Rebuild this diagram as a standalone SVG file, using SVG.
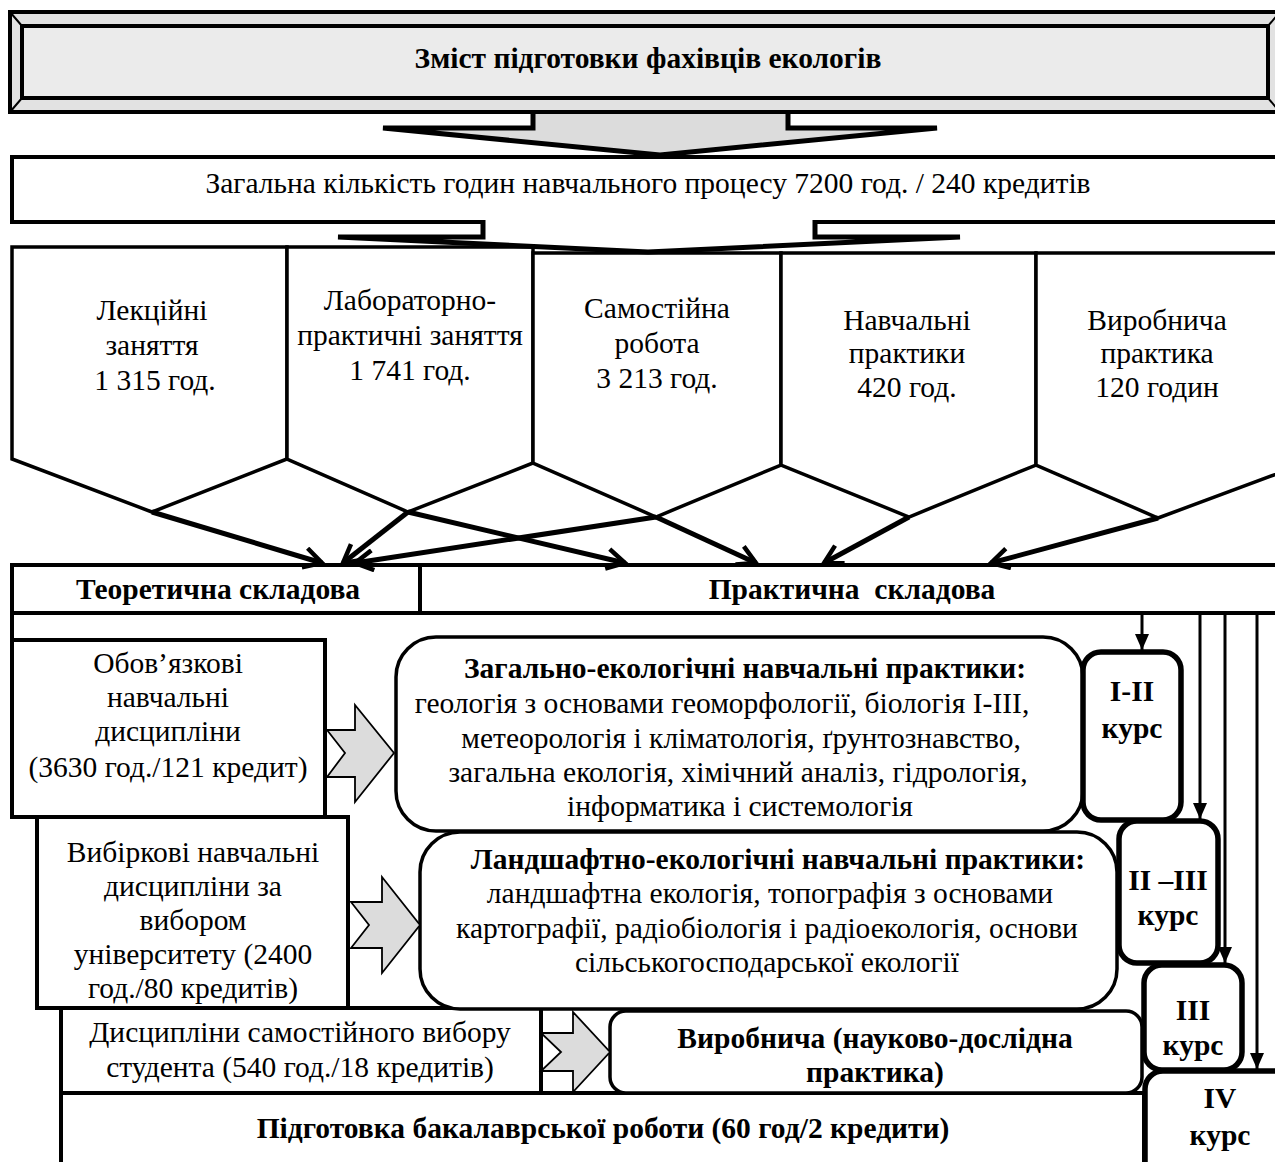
<svg xmlns="http://www.w3.org/2000/svg" width="1275" height="1162" viewBox="0 0 1275 1162">
  <defs>
    <style>
      text { font-family: "Liberation Serif", "Times New Roman", serif; fill: #000; text-anchor: middle; font-size: 29.5px; }
      .b { font-weight: bold; }
      .box { fill: #fff; stroke: #000; stroke-width: 4; }
      .pent { fill: #fff; stroke: #000; stroke-width: 3.5; stroke-linejoin: miter; }
      .flow { fill: none; stroke: #000; stroke-width: 5; }
      .grey { fill: #dcdcdc; stroke: #000; stroke-width: 1.8; stroke-linejoin: miter; }
      .round { fill: #fff; stroke: #000; stroke-width: 3.5; }
      .course { fill: #fff; stroke: #000; stroke-width: 5.5; }
      .vline { fill: none; stroke: #000; stroke-width: 3; }
    </style>
    <marker id="open" markerUnits="userSpaceOnUse" viewBox="-20 -12 24 24" refX="0" refY="0" markerWidth="24" markerHeight="24" orient="auto">
      <path d="M-18,-10 L0,0 L-18,10" fill="none" stroke="#000" stroke-width="4.5"/>
    </marker>
    <marker id="solid" markerUnits="userSpaceOnUse" viewBox="-16 -8 16 16" refX="0" refY="0" markerWidth="16" markerHeight="16" orient="auto">
      <path d="M-16,-7 L0,0 L-16,7 Z" fill="#000"/>
    </marker>
  </defs>

  <!-- big block arrow under the heading -->
  <g id="arrow-heading">
    <path class="grey" style="stroke-width:5" d="M533,108 L533,128 L383,128 L660,155 L937,128 L788,128 L788,108"/>
  </g>

  <!-- heading with bevelled frame -->
  <g id="heading">
    <rect x="10" y="12" width="1275" height="100" fill="#e2e2e2" stroke="#000" stroke-width="4"/>
    <rect x="22" y="26" width="1246" height="72" fill="#ebebeb" stroke="#000" stroke-width="4"/>
    <path d="M10,12 L22,26 M10,112 L22,98 M1268,26 L1280,12 M1268,98 L1280,112" stroke="#000" stroke-width="2"/>
    <text class="b" x="648" y="68">Зміст підготовки фахівців екологів</text>
  </g>

  <!-- total hours -->
  <g id="total">
    <rect class="box" x="12" y="157" width="1280" height="65"/>
    <text x="648" y="193">Загальна кількість годин навчального процесу 7200 год. / 240 кредитів</text>
  </g>

  <!-- five kinds of study -->
  <g id="p-lectures">
    <path class="pent" d="M12,247 L287,247 L287,459 L152,512 L12,459 Z"/>
    <text x="152" y="320">Лекційні</text>
    <text x="152" y="355">заняття</text>
    <text x="155" y="390">1 315 год.</text>
  </g>
  <g id="p-labs">
    <path class="pent" d="M287,247 L533,247 L533,463 L408,512 L287,459 Z"/>
    <text x="410" y="310">Лабораторно-</text>
    <text x="410" y="345">практичні заняття</text>
    <text x="410" y="380">1 741 год.</text>
  </g>
  <g id="p-self">
    <path class="pent" d="M533,253 L781,253 L781,465 L656,517 L533,463 Z"/>
    <text x="657" y="318">Самостійна</text>
    <text x="657" y="353">робота</text>
    <text x="657" y="388">3 213 год.</text>
  </g>
  <g id="p-study-practice">
    <path class="pent" d="M781,253 L1036,253 L1036,465 L909,517 L781,465 Z"/>
    <text x="907" y="330">Навчальні</text>
    <text x="907" y="363">практики</text>
    <text x="907" y="397">420 год.</text>
  </g>
  <g id="p-work-practice">
    <path class="pent" d="M1036,253 L1290,253 L1290,469 L1158,518 L1036,465 Z"/>
    <text x="1157" y="330">Виробнича</text>
    <text x="1157" y="363">практика</text>
    <text x="1157" y="397">120 годин</text>
  </g>

  <!-- block arrow under the total -->
  <g id="arrow-total">
    <path fill="#fff" stroke="#000" stroke-width="5" d="M483,220 L483,237 L338,237 L648,252 L960,237 L815,237 L815,220"/>
  </g>

  <!-- components -->
  <g id="theory">
    <rect class="box" x="12" y="565" width="408" height="48"/>
    <text class="b" x="218" y="599">Теоретична складова</text>
  </g>
  <g id="practice">
    <rect class="box" x="420" y="565" width="870" height="48"/>
    <text class="b" x="852" y="599" xml:space="preserve">Практична  складова</text>
  </g>

  <!-- disciplines -->
  <g id="mandatory">
    <rect class="box" x="12" y="640" width="313" height="177"/>
    <text x="168" y="673">Обов’язкові</text>
    <text x="168" y="707">навчальні</text>
    <text x="168" y="741">дисципліни</text>
    <text x="168" y="777">(3630 год./121 кредит)</text>
  </g>
  <g id="elective-univ">
    <rect class="box" x="37" y="817" width="311" height="191"/>
    <text x="193" y="862">Вибіркові навчальні</text>
    <text x="193" y="896">дисципліни за</text>
    <text x="193" y="930">вибором</text>
    <text x="193" y="964">університету (2400</text>
    <text x="193" y="998">год./80 кредитів)</text>
  </g>
  <g id="elective-student">
    <rect class="box" x="61" y="1008" width="480" height="85"/>
    <text x="300" y="1042">Дисципліни самостійного вибору</text>
    <text x="300" y="1077">студента (540 год./18 кредитів)</text>
  </g>
  <g id="thesis">
    <rect class="box" x="61" y="1093" width="1083" height="90"/>
    <text class="b" x="603" y="1138">Підготовка бакалаврської роботи (60 год/2 кредити)</text>
  </g>

  <!-- practices -->
  <g id="general-practice">
    <rect class="round" x="396" y="637" width="687" height="194" rx="40" ry="40"/>
    <text class="b" x="745" y="678">Загально-екологічні навчальні практики:</text>
    <text x="722" y="713">геологія з основами геоморфології, біологія І-ІІІ,</text>
    <text x="741" y="748">метеорологія і кліматологія, ґрунтознавство,</text>
    <text x="738" y="782">загальна екологія, хімічний аналіз, гідрологія,</text>
    <text x="740" y="816">інформатика і системологія</text>
  </g>
  <g id="landscape-practice">
    <rect class="round" x="420" y="832" width="697" height="177" rx="40" ry="40"/>
    <text class="b" x="778" y="869">Ландшафтно-екологічні навчальні практики:</text>
    <text x="770" y="903">ландшафтна екологія, топографія з основами</text>
    <text x="767" y="938">картографії, радіобіологія і радіоекологія, основи</text>
    <text x="767" y="972">сільськогосподарської екології</text>
  </g>
  <g id="work-practice">
    <rect class="round" x="610" y="1011" width="532" height="82" rx="16" ry="16"/>
    <text class="b" x="875" y="1048">Виробнича (науково-дослідна</text>
    <text class="b" x="875" y="1082">практика)</text>
  </g>

  <!-- study years -->
  <g id="year-1-2">
    <rect class="course" x="1083" y="652" width="98" height="168" rx="18" ry="18"/>
    <text class="b" x="1132" y="701">І-ІІ</text>
    <text class="b" x="1132" y="738">курс</text>
  </g>
  <g id="year-2-3">
    <rect class="course" x="1119" y="821" width="99" height="142" rx="18" ry="18"/>
    <text class="b" x="1168" y="890">ІІ –ІІІ</text>
    <text class="b" x="1168" y="925">курс</text>
  </g>
  <g id="year-3">
    <rect class="course" x="1144" y="965" width="98" height="105" rx="18" ry="18"/>
    <text class="b" x="1193" y="1020">ІІІ</text>
    <text class="b" x="1193" y="1055">курс</text>
  </g>
  <g id="year-4">
    <rect class="course" x="1145" y="1071" width="150" height="110" rx="18" ry="18"/>
    <text class="b" x="1220" y="1108">IV</text>
    <text class="b" x="1220" y="1145">курс</text>
  </g>

  <!-- connectors -->
  <g id="connectors">
    <line class="flow" x1="152" y1="512" x2="322" y2="563" marker-end="url(#open)"/>
    <line class="flow" x1="408" y1="512" x2="343" y2="563" marker-end="url(#open)"/>
    <line class="flow" x1="408" y1="512" x2="625" y2="563" marker-end="url(#open)"/>
    <line class="flow" x1="656" y1="517" x2="355" y2="563" marker-end="url(#open)"/>
    <line class="flow" x1="656" y1="517" x2="756" y2="563" marker-end="url(#open)"/>
    <line class="flow" x1="909" y1="517" x2="824" y2="563" marker-end="url(#open)"/>
    <line class="flow" x1="1158" y1="518" x2="991" y2="563" marker-end="url(#open)"/>

    <line class="vline" x1="12" y1="613" x2="12" y2="640" style="stroke-width:4"/>

    <line class="vline" x1="1142" y1="613" x2="1142" y2="650" marker-end="url(#solid)"/>
    <line class="vline" x1="1200" y1="613" x2="1200" y2="819" marker-end="url(#solid)"/>
    <line class="vline" x1="1225" y1="613" x2="1225" y2="963" marker-end="url(#solid)"/>
    <line class="vline" x1="1257" y1="613" x2="1257" y2="1069" marker-end="url(#solid)"/>

    <path class="grey" d="M327,730 L355,730 L355,705 L394,753 L355,802 L355,777 L327,777 L345,753 Z"/>
    <path class="grey" d="M351,902 L382,902 L382,877 L420,925 L382,973 L382,948 L351,948 L369,925 Z"/>
    <path class="grey" d="M541,1033 L573,1033 L573,1012 L610,1052 L573,1092 L573,1071 L541,1071 L561,1052 Z"/>
  </g>
</svg>
